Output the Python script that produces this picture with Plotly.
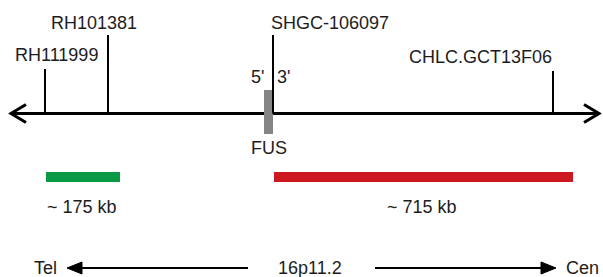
import plotly.graph_objects as go

# ---- data ----
marker_names = ["RH111999", "RH101381", "SHGC-106097", "CHLC.GCT13F06"]
marker_pos = [45, 108, 273, 553]          # position along the map
marker_top = [69, 35, 35, 71]             # top of marker stick
gene_name = "FUS"
gene_start, gene_end = 264, 273
region_labels = ["~ 175 kb", "~ 715 kb"]
region_start = [46, 274]
region_end = [120, 573]
region_colors = ["#0a9a44", "#cc181e"]
axis_start, axis_end = 11, 599
orient_labels = ["Tel", "16p11.2", "Cen"]

# ---- styling ----
FONT = "Liberation Sans, Arial, sans-serif"
FS = 18
TXT = "#1c1c1c"
AXIS_Y = 113.5

fig = go.Figure()
shapes = []
ann = []

# main axis line with open chevrons
shapes.append(dict(type="line", x0=axis_start + 1, x1=axis_end - 1, y0=AXIS_Y, y1=AXIS_Y,
                   line=dict(color="black", width=3)))
shapes.append(dict(type="path",
                   path=f"M {axis_start+15} {AXIS_Y-9} L {axis_start} {AXIS_Y} L {axis_start+15} {AXIS_Y+9}",
                   line=dict(color="black", width=3)))
shapes.append(dict(type="path",
                   path=f"M {axis_end-15} {AXIS_Y-9} L {axis_end} {AXIS_Y} L {axis_end-15} {AXIS_Y+9}",
                   line=dict(color="black", width=3)))

# gene bar
shapes.append(dict(type="rect", x0=gene_start, x1=gene_end, y0=90, y1=134,
                   fillcolor="#858585", line=dict(width=0)))

# marker sticks
for x, top in zip(marker_pos, marker_top):
    shapes.append(dict(type="line", x0=x, x1=x, y0=top, y1=AXIS_Y,
                       line=dict(color="black", width=2)))

# marker labels
label_cfg = [
    dict(dx=11, y=55, xanchor="center"),
    dict(dx=-14, y=23, xanchor="center"),
    dict(dx=-4, y=23, xanchor="left"),
    dict(dx=1, y=57, xanchor="right"),
]
for name, x, cfg in zip(marker_names, marker_pos, label_cfg):
    ann.append(dict(x=x + cfg["dx"], y=cfg["y"], text=name, xanchor=cfg["xanchor"],
                    yanchor="middle", showarrow=False))

# 5' / 3'
ann.append(dict(x=gene_start - 7, y=77, text="5'", xanchor="center", yanchor="middle", showarrow=False))
ann.append(dict(x=gene_end + 10, y=77, text="3'", xanchor="center", yanchor="middle", showarrow=False))
ann.append(dict(x=(gene_start + gene_end) / 2, y=148, text=gene_name, xanchor="center",
                yanchor="middle", showarrow=False))

# regions
for lab, s, e, c in zip(region_labels, region_start, region_end, region_colors):
    shapes.append(dict(type="rect", x0=s, x1=e, y0=172, y1=182, fillcolor=c, line=dict(width=0)))
ann.append(dict(x=82, y=207, text=region_labels[0], xanchor="center", yanchor="middle", showarrow=False))
ann.append(dict(x=422, y=207, text=region_labels[1], xanchor="center", yanchor="middle", showarrow=False))

# orientation row
BY = 268
ann.append(dict(x=45, y=BY, text=orient_labels[0], xanchor="center", yanchor="middle", showarrow=False))
ann.append(dict(x=310, y=BY, text=orient_labels[1], xanchor="center", yanchor="middle", showarrow=False))
ann.append(dict(x=582, y=BY, text=orient_labels[2], xanchor="center", yanchor="middle", showarrow=False))
shapes.append(dict(type="line", x0=80, x1=248, y0=BY, y1=BY, line=dict(color="black", width=2)))
shapes.append(dict(type="path", path=f"M 67 {BY} L 82 {BY-6} L 82 {BY+6} Z",
                   fillcolor="black", line=dict(color="black", width=1)))
shapes.append(dict(type="line", x0=375, x1=543, y0=BY, y1=BY, line=dict(color="black", width=2)))
shapes.append(dict(type="path", path=f"M 556 {BY} L 541 {BY-6} L 541 {BY+6} Z",
                   fillcolor="black", line=dict(color="black", width=1)))

for s in shapes:
    s.setdefault("xref", "x")
    s.setdefault("yref", "y")
    s.setdefault("layer", "above")
for a in ann:
    a["xref"] = "x"
    a["yref"] = "y"
    a["font"] = dict(family=FONT, size=FS, color=TXT)

fig.update_layout(
    width=603, height=277,
    margin=dict(l=0, r=0, t=0, b=0),
    paper_bgcolor="white", plot_bgcolor="white",
    xaxis=dict(range=[0, 603], visible=False, fixedrange=True),
    yaxis=dict(range=[277, 0], visible=False, fixedrange=True),
    shapes=shapes, annotations=ann, showlegend=False,
)
fig.write_html("out.html", config=dict(displayModeBar=False),
               post_script="document.body.style.margin='0';document.body.style.overflow='hidden';")
